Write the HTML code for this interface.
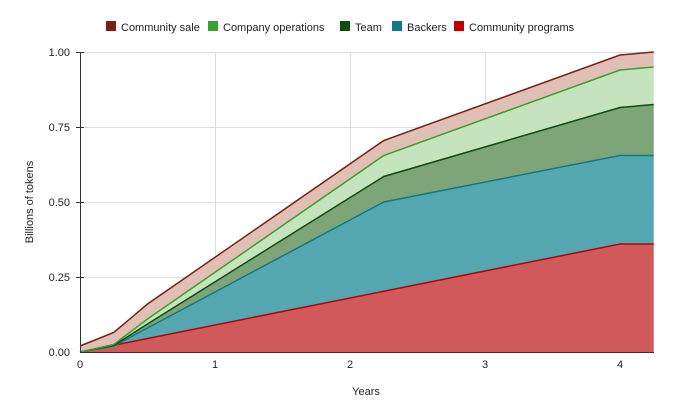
<!DOCTYPE html><html><head><style>body{margin:0;background:#fff}svg{display:block;font-family:"Liberation Sans",Arial,sans-serif}</style></head><body>
<svg width="675" height="418" viewBox="0 0 675 418">
<g stroke="#ddd" stroke-width="1">
<line x1="80" y1="52.5" x2="654" y2="52.5"/><line x1="80" y1="127.5" x2="654" y2="127.5"/><line x1="80" y1="202.5" x2="654" y2="202.5"/><line x1="80" y1="277.5" x2="654" y2="277.5"/>
<line x1="215.5" y1="52" x2="215.5" y2="352"/><line x1="350.5" y1="52" x2="350.5" y2="352"/><line x1="485.5" y1="52" x2="485.5" y2="352"/><line x1="620.5" y1="52" x2="620.5" y2="352"/>
</g>
<polygon fill="#e0bfb5" points="80,346 113.75,332.5 147.5,304 383.75,140.5 620,55 653.75,52 653.75,67 620,70 383.75,155.5 147.5,319 113.75,344.5 80,352"/>
<polygon fill="#c5e3bd" points="80,352 113.75,344.5 147.5,319 383.75,155.5 620,70 653.75,67 653.75,104.5 620,107.5 383.75,176.5 147.5,324 113.75,345.4"/>
<polygon fill="#7ea47a" points="80,352 113.75,345.4 147.5,324 383.75,176.5 620,107.5 653.75,104.5 653.75,155.5 620,155.5 383.75,202 147.5,328 113.75,346"/>
<polygon fill="#56a8b0" points="80,352 113.75,346 147.5,328 383.75,202 620,155.5 653.75,155.5 653.75,244 620,244 383.75,291.25 147.5,338.5 113.75,345.25"/>
<polygon fill="#d05a5a" points="80,352 113.75,345.25 147.5,338.5 383.75,291.25 620,244 653.75,244 653.75,352"/>
<g fill="none" stroke-width="1.5">
<polyline stroke="#c00000" points="80,352 113.75,345.25 147.5,338.5 383.75,291.25 620,244 653.75,244"/>
<polyline stroke="#0d7a8a" points="80,352 113.75,346 147.5,328 383.75,202 620,155.5 653.75,155.5"/>
<polyline stroke="#0d4d0d" points="80,352 113.75,345.4 147.5,324 383.75,176.5 620,107.5 653.75,104.5"/>
<polyline stroke="#3aa030" points="80,352 113.75,344.5 147.5,319 383.75,155.5 620,70 653.75,67"/>
<polyline stroke="#7a2010" points="80,346 113.75,332.5 147.5,304 383.75,140.5 620,55 653.75,52"/>
</g>
<g stroke="#333" stroke-width="1"><line x1="80.5" y1="52" x2="80.5" y2="352"/><line x1="80" y1="352.5" x2="654" y2="352.5"/>
<line x1="76" y1="52.5" x2="84" y2="52.5"/><line x1="76" y1="127.5" x2="84" y2="127.5"/><line x1="76" y1="202.5" x2="84" y2="202.5"/><line x1="76" y1="277.5" x2="84" y2="277.5"/></g>
<g font-size="11" fill="#222" text-anchor="end">
<text x="70" y="56">1.00</text><text x="70" y="131">0.75</text><text x="70" y="206">0.50</text><text x="70" y="281">0.25</text><text x="70" y="356">0.00</text></g>
<g font-size="11" fill="#222" text-anchor="middle">
<text x="80" y="368">0</text><text x="215" y="368">1</text><text x="350" y="368">2</text><text x="485" y="368">3</text><text x="620" y="368">4</text>
<text x="366" y="395">Years</text>
<text transform="translate(33,202) rotate(-90)">Billions of tokens</text></g>
<g font-size="11" fill="#222">
<rect x="106" y="21" width="10" height="10" fill="#7a2010"/><text x="121" y="31">Community sale</text>
<rect x="208" y="21" width="10" height="10" fill="#3aa030"/><text x="223" y="31">Company operations</text>
<rect x="340" y="21" width="10" height="10" fill="#0d4d0d"/><text x="355" y="31">Team</text>
<rect x="392" y="21" width="10" height="10" fill="#0d7a8a"/><text x="407" y="31">Backers</text>
<rect x="454" y="21" width="10" height="10" fill="#c00000"/><text x="469" y="31">Community programs</text>
</g>
</svg></body></html>
